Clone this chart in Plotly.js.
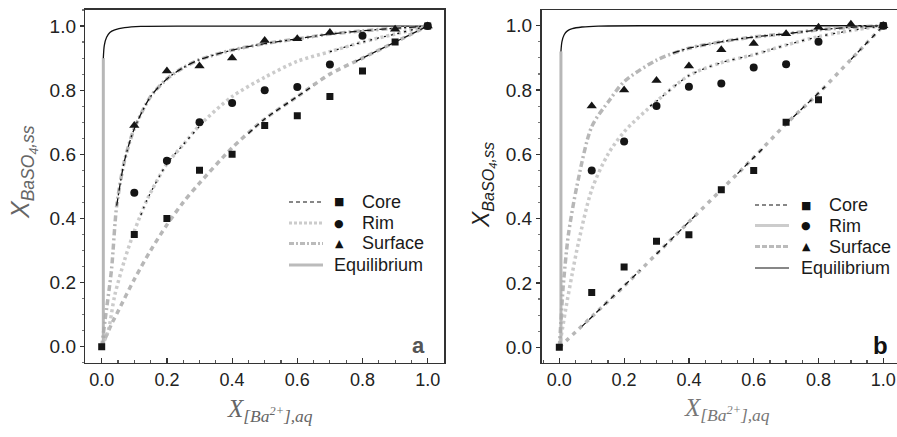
<!DOCTYPE html>
<html><head><meta charset="utf-8">
<script src="https://cdn.plot.ly/plotly-3.0.1.min.js"></script>
<style>html,body{margin:0;padding:0;background:#fff}#c{width:897px;height:437px}</style>
</head><body><div id="c"></div>
<script>
// ---------- Panel a : measured points ----------
const ptsX = [0, 0.1, 0.2, 0.3, 0.4, 0.5, 0.6, 0.7, 0.8, 0.9, 1.0];
const coreA    = [0, 0.35, 0.40, 0.55, 0.60, 0.69, 0.72, 0.78, 0.86, 0.95, 1.0];
const rimAX    = [0.1, 0.2, 0.3, 0.4, 0.5, 0.6, 0.7, 0.8, 1.0];
const rimA     = [0.48, 0.58, 0.70, 0.76, 0.80, 0.81, 0.88, 0.97, 1.0];
const surfAX   = [0.1, 0.2, 0.3, 0.4, 0.5, 0.6, 0.7, 0.9, 1.0];
const surfA    = [0.69, 0.86, 0.875, 0.90, 0.955, 0.96, 0.98, 0.99, 1.0];

// ---------- Panel a : fitted curves ----------
const coreFitAX = [0, 0.03, 0.05, 0.1, 0.15, 0.2, 0.25, 0.3, 0.4, 0.5, 0.6, 0.7, 0.8, 0.9, 1.0];
const coreFitAY = [0, 0.07, 0.11, 0.21, 0.30, 0.38, 0.45, 0.51, 0.62, 0.71, 0.78, 0.85, 0.90, 0.95, 1.0];
const rimFitAX  = [0, 0.02, 0.04, 0.07, 0.1, 0.14, 0.2, 0.25, 0.3, 0.4, 0.5, 0.6, 0.7, 0.8, 0.9, 1.0];
const rimFitAY  = [0, 0.05, 0.16, 0.27, 0.36, 0.46, 0.57, 0.63, 0.69, 0.78, 0.84, 0.89, 0.92, 0.95, 0.975, 1.0];
const surfFitAX = [0, 0.01, 0.03, 0.046, 0.07, 0.1, 0.15, 0.2, 0.25, 0.3, 0.4, 0.5, 0.6, 0.7, 0.8, 0.9, 1.0];
const surfFitAY = [0, 0.08, 0.24, 0.44, 0.58, 0.68, 0.78, 0.835, 0.87, 0.895, 0.925, 0.945, 0.96, 0.975, 0.985, 0.993, 1.0];
// black (sharp) parts of the scanned curves
const coreBlkAX = [0.45, 0.5, 0.6, 0.65, null, 0.78, 0.8, 0.9, 1.0];
const coreBlkAY = [0.665, 0.71, 0.78, 0.815, null, 0.89, 0.90, 0.95, 1.0];
const rimBlkAX  = [0.12, 0.14, 0.2, 0.25, 0.32, null, 0.7, 0.8, 0.9, 1.0];
const rimBlkAY  = [0.41, 0.46, 0.57, 0.63, 0.71, null, 0.92, 0.95, 0.975, 1.0];
const surfBlkAX = [0.046, 0.07, 0.1, 0.15, 0.2, 0.25, 0.3, 0.4, 0.5, 0.6, 0.7, 0.8, 0.9, 1.0];
const surfBlkAY = [0.44, 0.58, 0.68, 0.78, 0.835, 0.87, 0.895, 0.925, 0.945, 0.96, 0.975, 0.985, 0.993, 1.0];

// ---------- Panel b : measured points ----------
const coreBX = [0, 0.1, 0.2, 0.3, 0.4, 0.5, 0.6, 0.7, 0.8, 1.0];
const coreB  = [0, 0.17, 0.25, 0.33, 0.35, 0.49, 0.55, 0.70, 0.77, 1.0];
const rimBX  = [0.1, 0.2, 0.3, 0.4, 0.5, 0.6, 0.7, 0.8, 1.0];
const rimB   = [0.55, 0.64, 0.75, 0.81, 0.82, 0.87, 0.88, 0.95, 1.0];
const surfBX = [0.1, 0.2, 0.3, 0.4, 0.5, 0.6, 0.7, 0.8, 0.9, 1.0];
const surfB  = [0.75, 0.80, 0.83, 0.875, 0.925, 0.945, 0.975, 0.995, 1.005, 1.0];

// ---------- Panel b : fitted curves ----------
const coreFitBX = [0, 0.1, 0.2, 0.3, 0.4, 0.5, 0.6, 0.7, 0.8, 0.9, 1.0];
const coreFitBY = [0, 0.095, 0.19, 0.29, 0.39, 0.49, 0.59, 0.695, 0.79, 0.895, 1.0];
const rimFitBX  = [0, 0.01, 0.02, 0.04, 0.06, 0.1, 0.15, 0.2, 0.3, 0.4, 0.5, 0.6, 0.7, 0.8, 0.9, 1.0];
const rimFitBY  = [0, 0.06, 0.12, 0.23, 0.33, 0.49, 0.60, 0.67, 0.765, 0.845, 0.885, 0.91, 0.94, 0.966, 0.985, 1.0];
const surfFitBX = [0, 0.005, 0.012, 0.028, 0.054, 0.1, 0.156, 0.2, 0.3, 0.4, 0.5, 0.6, 0.7, 0.8, 0.9, 1.0];
const surfFitBY = [0, 0.08, 0.19, 0.35, 0.50, 0.686, 0.77, 0.826, 0.893, 0.93, 0.95, 0.965, 0.975, 0.987, 0.995, 1.0];
const coreBlkBX = [0.07, 0.25, null, 0.3, 0.42, null, 0.55, 0.63, null, 0.7, 0.82, null, 0.9, 1.0];
const coreBlkBY = [0.065, 0.24, null, 0.29, 0.41, null, 0.54, 0.62, null, 0.695, 0.81, null, 0.895, 1.0];
const rimBlkBX  = [0.28, 0.3, 0.4, 0.5, 0.6, 0.7, 0.8, 0.9, 1.0];
const rimBlkBY  = [0.75, 0.765, 0.845, 0.885, 0.91, 0.94, 0.966, 0.985, 1.0];
const surfBlkBX = [0.35, 0.4, 0.5, 0.6, 0.7, 0.8, 0.9, 1.0];
const surfBlkBY = [0.915, 0.93, 0.95, 0.965, 0.975, 0.987, 0.995, 1.0];

// ---------- Equilibrium curves ----------
const eqAX = [0.005, 0.005, 0.008, 0.015, 0.025, 0.04, 0.07, 0.12, 0.3, 1.0];
const eqAY = [0, 0.90, 0.94, 0.965, 0.98, 0.988, 0.995, 0.999, 1.0, 1.0];
const eqBX = [0.005, 0.005, 0.008, 0.015, 0.025, 0.04, 0.07, 0.12, 0.3, 1.0];
const eqBY = [0, 0.92, 0.95, 0.972, 0.984, 0.991, 0.996, 0.999, 1.0, 1.0];

const legendNames = ['Core', 'Rim', 'Surface', 'Equilibrium'];
const tickVals = [0, 0.2, 0.4, 0.6, 0.8, 1.0];
const tickText = ['0.0', '0.2', '0.4', '0.6', '0.8', '1.0'];

const GRAY = 'rgba(170,170,170,0.85)';
function curve(x, y, ax, color, w, dash, shape){
  return {x:x, y:y, xaxis:ax[0], yaxis:ax[1], mode:'lines', type:'scatter', showlegend:false,
          hoverinfo:'skip', connectgaps:false,
          line:{color:color, width:w, dash:dash, shape:shape||'spline', smoothing:0.8}};
}
function pts(x, y, ax, sym, size){
  return {x:x, y:y, xaxis:ax[0], yaxis:ax[1], mode:'markers', type:'scatter', showlegend:false,
          marker:{symbol:sym, size:size, color:'#151515'}};
}
function eqTraces(x, y, ax){
  const vx = x.slice(0,2), vy = y.slice(0,2);
  return [curve(vx, vy, ax, GRAY, 3, 'solid', 'linear'),
          curve(x.slice(1), y.slice(1), ax, '#111', 1.3, 'solid', 'spline')];
}
const A = ['x','y'], B = ['x2','y2'];
const data = [].concat(
  eqTraces(eqAX, eqAY, A),
  [curve(coreFitAX, coreFitAY, A, GRAY, 3.5, '5px,4px'),
   curve(rimFitAX, rimFitAY, A, 'rgba(190,190,190,0.8)', 3.5, '3px,3px'),
   curve(surfFitAX, surfFitAY, A, GRAY, 3.5, '6px,3px,2px,3px'),
   curve(coreBlkAX, coreBlkAY, A, '#111', 1.3, '5px,4px'),
   curve(rimBlkAX, rimBlkAY, A, '#111', 1.3, '2px,5px'),
   curve(surfBlkAX, surfBlkAY, A, '#111', 1.3, '7px,3px,2px,3px'),
   pts(ptsX, coreA, A, 'square', 7),
   pts(rimAX, rimA, A, 'circle', 8),
   pts(surfAX, surfA, A, 'triangle-up', 9)],
  eqTraces(eqBX, eqBY, B),
  [curve(coreFitBX, coreFitBY, B, GRAY, 3.5, '4px,5px'),
   curve(rimFitBX, rimFitBY, B, 'rgba(190,190,190,0.8)', 3.5, '3px,3px'),
   curve(surfFitBX, surfFitBY, B, GRAY, 3.5, '6px,3px,2px,3px'),
   curve(coreBlkBX, coreBlkBY, B, '#111', 1.3, '5px,5px', 'linear'),
   curve(rimBlkBX, rimBlkBY, B, '#111', 1.3, '2px,6px'),
   curve(surfBlkBX, surfBlkBY, B, '#111', 1.3, '7px,3px,2px,3px'),
   pts(coreBX, coreB, B, 'square', 7),
   pts(rimBX, rimB, B, 'circle', 8),
   pts(surfBX, surfB, B, 'triangle-up', 9)]
);

const W = 897, H = 437;
const px = v => v / W, py = v => (H - v) / H;
const FONT = 'Liberation Sans, Arial, sans-serif';

function xAxis(dom, rng){
  return {domain:dom, range:rng, showgrid:false, zeroline:false, showline:true, linecolor:'#333',
          linewidth:1.6, mirror:true, ticks:'inside', ticklen:5, tickwidth:1.2, tickcolor:'#333',
          tickvals:tickVals, ticktext:tickText, tickfont:{family:FONT, size:18, color:'#222'},
          minor:{dtick:0.05, ticks:'inside', ticklen:3, tickcolor:'#555'}, fixedrange:true};
}
function yAxis(dom, rng, anchor){
  return {domain:dom, range:rng, anchor:anchor, showgrid:false, zeroline:false, showline:true,
          linecolor:'#333', linewidth:1.6, mirror:true, ticks:'outside', ticklen:4, tickwidth:1.2,
          tickcolor:'#333', tickvals:tickVals, ticktext:tickText,
          tickfont:{family:FONT, size:19, color:'#222'},
          minor:{dtick:0.05, ticks:'outside', ticklen:2, tickcolor:'#777'}, fixedrange:true};
}

const shapes = [], ann = [];
function legend(x0, x1, xm, xt, xtEq, rows, styles){
  const syms = ['■', '●', '▲', ''];
  rows.forEach((r, i) => {
    const s = styles[i];
    shapes.push({type:'line', xref:'paper', yref:'paper', x0:px(x0), x1:px(x1), y0:py(r), y1:py(r),
                 line:{color:s.c, width:s.w, dash:s.d}});
    if (syms[i]) ann.push({xref:'paper', yref:'paper', x:px(xm), y:py(r), text:syms[i], showarrow:false,
                 xanchor:'center', yanchor:'middle', font:{family:'DejaVu Sans', size:11, color:'#111'}});
    ann.push({xref:'paper', yref:'paper', x:px(i === 3 ? xtEq : xt), y:py(r), text:legendNames[i],
              showarrow:false, xanchor:'left', yanchor:'middle', font:{family:FONT, size:18, color:'#1a1a1a'}});
  });
}
legend(289, 323, 339, 360, 332, [202, 223, 243.5, 265],
  [{c:'#111', w:1.2, d:'4px,3px'}, {c:'#ccc', w:3, d:'3px,2px'}, {c:'#bbb', w:3, d:'5px,2px,2px,2px'}, {c:'#bbb', w:3, d:'solid'}]);
legend(755, 789, 806, 827, 799, [205, 225.5, 246.5, 268],
  [{c:'#111', w:1.2, d:'4px,3px'}, {c:'#ccc', w:3, d:'solid'}, {c:'#bbb', w:3, d:'5px,2px'}, {c:'#111', w:1.1, d:'solid'}]);

const xt = '<i>X</i><sub><i>[Ba<sup>2+</sup>],aq</i></sub>';
const yt = '<i>X</i><sub><i>BaSO<sub>4</sub>,ss</i></sub>';
ann.push({xref:'paper', yref:'paper', x:px(270), y:py(410), text:xt, showarrow:false, xanchor:'center', yanchor:'middle',
          font:{family:'Liberation Serif', size:25, color:'#666'}});
ann.push({xref:'paper', yref:'paper', x:px(727), y:py(409), text:xt, showarrow:false, xanchor:'center', yanchor:'middle',
          font:{family:'Liberation Serif', size:25, color:'#777'}});
ann.push({xref:'paper', yref:'paper', x:px(24), y:py(172), text:yt, showarrow:false, textangle:-90,
          xanchor:'center', yanchor:'middle', font:{family:'Liberation Sans', size:25, color:'#666'}});
ann.push({xref:'paper', yref:'paper', x:px(483), y:py(185), text:yt, showarrow:false, textangle:-90,
          xanchor:'center', yanchor:'middle', font:{family:'Liberation Sans', size:23, color:'#222'}});
ann.push({xref:'paper', yref:'paper', x:px(418), y:py(345), text:'<b>a</b>', showarrow:false,
          xanchor:'center', yanchor:'middle', font:{family:FONT, size:22, color:'#555'}});
ann.push({xref:'paper', yref:'paper', x:px(880), y:py(345), text:'<b>b</b>', showarrow:false,
          xanchor:'center', yanchor:'middle', font:{family:FONT, size:24, color:'#111'}});

const layout = {
  width:W, height:H, margin:{l:0, r:0, t:0, b:0}, paper_bgcolor:'#fff', plot_bgcolor:'#fff',
  showlegend:false,
  xaxis:xAxis([px(85.4), px(444)], [-0.05, 1.05]),
  yaxis:yAxis([py(362.7), py(10)], [-0.05, 1.05], 'x'),
  xaxis2:Object.assign(xAxis([px(541.5), 1.0], [-0.055, 1.0423]), {anchor:'y2'}),
  yaxis2:yAxis([py(362.7), py(10.3)], [-0.048, 1.048], 'x2'),
  shapes:shapes, annotations:ann
};
layout.xaxis.anchor = 'y';
Plotly.newPlot('c', data, layout, {displayModeBar:false, staticPlot:true});
</script></body></html>
